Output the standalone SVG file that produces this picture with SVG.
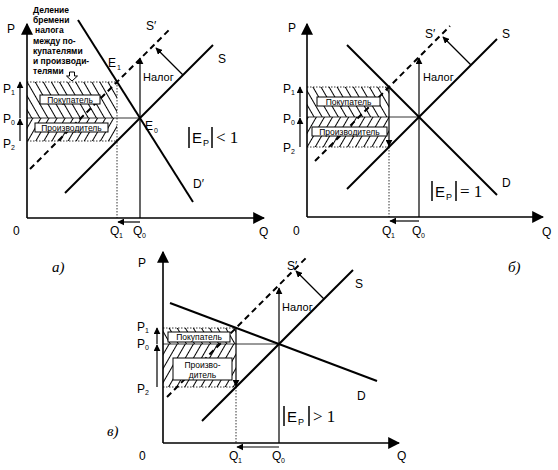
<svg xmlns="http://www.w3.org/2000/svg" width="558" height="470" viewBox="0 0 558 470">
<defs>
<style>
.ax{stroke:#000;stroke-width:1.6;fill:none}
.cv{stroke:#000;stroke-width:2;fill:none}
.dsh{stroke:#000;stroke-width:2;fill:none;stroke-dasharray:6 4}
.thin{stroke:#000;stroke-width:0.8;fill:none}
.dot{stroke:#000;stroke-width:0.8;fill:none;stroke-dasharray:1.5 1.5}
.ar{stroke:#000;stroke-width:1.2;fill:none}
.box{fill:#fff;stroke:#000;stroke-width:1}
.t{font-family:"Liberation Sans",Arial,sans-serif;font-size:12px;fill:#000}
.s{font-family:"Liberation Sans",Arial,sans-serif;font-size:7px;fill:#000}
.n{font-family:"Liberation Sans",Arial,sans-serif;font-size:11px;fill:#000}
.bx{font-family:"Liberation Sans",Arial,sans-serif;font-size:8.5px;fill:#000;text-anchor:middle}
.note{font-family:"Liberation Sans",Arial,sans-serif;font-size:8.5px;font-weight:bold;fill:#000}
.el{font-family:"Liberation Sans",Arial,sans-serif;font-size:15px;fill:#000}
.els{font-family:"Liberation Sans",Arial,sans-serif;font-size:9px;fill:#000}
.rel{font-family:"Liberation Serif","Times New Roman",serif;font-size:17px;fill:#000}
.lab{font-family:"Liberation Serif","Times New Roman",serif;font-size:15px;font-style:italic;fill:#000}
.bar{stroke:#000;stroke-width:1.5}
</style>
<marker id="axh" viewBox="0 0 10 10" refX="9" refY="5" markerWidth="12" markerHeight="12" markerUnits="userSpaceOnUse" orient="auto"><path d="M0,0 L10,5 L0,10 z" fill="#000"/></marker>
<marker id="ah" viewBox="0 0 10 10" refX="9" refY="5" markerWidth="7" markerHeight="7" markerUnits="userSpaceOnUse" orient="auto"><path d="M0,0 L10,5 L0,10 z" fill="#000"/></marker>
<pattern id="hb" width="7" height="10" patternUnits="userSpaceOnUse" patternTransform="rotate(-30)"><line x1="3.5" y1="0" x2="3.5" y2="10" stroke="#000" stroke-width="1"/></pattern>
<pattern id="hf" width="7" height="10" patternUnits="userSpaceOnUse" patternTransform="rotate(30)"><line x1="3.5" y1="0" x2="3.5" y2="10" stroke="#000" stroke-width="1"/></pattern>
</defs>
<rect width="558" height="470" fill="#fff"/>

<!-- Panel a -->
<g id="panel-a">
<g id="a-hatch">
<rect x="27" y="82" width="90" height="36" fill="url(#hb)"/>
<rect x="27" y="118" width="90" height="23" fill="url(#hf)"/>
</g>
<g id="a-connectors">
<line class="dot" x1="27" y1="82" x2="117" y2="82"/>
<line class="dot" x1="27" y1="141" x2="117" y2="141"/>
<line class="thin" x1="27" y1="118" x2="140" y2="118"/>
<line class="dot" x1="117" y1="82" x2="117" y2="218"/>
<line class="ar" x1="140" y1="218" x2="140" y2="58" marker-end="url(#ah)"/>
<line class="cv" x1="65" y1="193" x2="213" y2="45"/>
<line class="dsh" x1="30" y1="169" x2="170" y2="29"/>
<line class="cv" x1="78" y1="20" x2="193" y2="202"/>
<line class="ar" x1="183" y1="75" x2="156" y2="48" marker-end="url(#ah)"/>
<line class="ar" x1="20" y1="141" x2="20" y2="119" marker-end="url(#ah)"/>
<line class="ar" x1="20" y1="118" x2="20" y2="82" marker-end="url(#ah)"/>
<line class="ar" x1="140" y1="222" x2="118" y2="222" marker-end="url(#ah)"/>
<line class="ax" x1="27" y1="218" x2="27" y2="24" marker-end="url(#axh)"/>
<line class="ax" x1="27" y1="218" x2="264" y2="218" marker-end="url(#axh)"/>
</g>
<g id="a-buyer"><rect class="box" x="40" y="95" width="60" height="9"/><text class="bx" x="70" y="102.8">Покупатель</text></g>
<g id="a-producer"><rect class="box" x="35" y="123" width="73" height="9"/><text class="bx" x="71.5" y="130.8">Производитель</text></g>
<g id="a-note">
<text class="note" x="33" y="13">Деление</text>
<text class="note" x="33" y="23">бремени</text>
<text class="note" x="35" y="33">налога</text>
<text class="note" x="33" y="44">между по-</text>
<text class="note" x="33" y="54">купателями</text>
<text class="note" x="33" y="64">и производи-</text>
<text class="note" x="33" y="74">телями</text>
<path d="M69.5,72 h5 v4 h3 l-5.5,5 l-5.5,-5 h3 z" fill="#fff" stroke="#000" stroke-width="1"/>
</g>
<g id="a-labels">
<text class="t" x="7" y="33">P</text>
<text class="t" x="13" y="235">0</text>
<text class="t" x="259" y="236">Q</text>
<text class="t" x="110" y="235">Q</text><text class="s" x="119" y="238">1</text>
<text class="t" x="133" y="235">Q</text><text class="s" x="142" y="238">0</text>
<text class="t" x="3" y="93">P</text><text class="s" x="11" y="95">1</text>
<text class="t" x="3" y="123">P</text><text class="s" x="11" y="125">0</text>
<text class="t" x="3" y="148">P</text><text class="s" x="11" y="150">2</text>
<text class="t" x="108" y="67">E</text><text class="s" x="117" y="70">1</text>
<text class="t" x="145" y="130">E</text><text class="s" x="154" y="133">0</text>
<text class="t" x="218" y="63">S</text>
<text class="t" x="146" y="30">S′</text>
<text class="t" x="193" y="188">D′</text>
<text class="n" x="143" y="81">Налог</text>
<line class="bar" x1="189" y1="127" x2="189" y2="148"/>
<text class="el" x="192" y="143">E</text><text class="els" x="203" y="146">P</text>
<line class="bar" x1="212" y1="127" x2="212" y2="148"/>
<text class="rel" x="216" y="143">&lt; 1</text>
<text class="lab" x="52" y="272">а)</text>
</g>
</g>

<!-- Panel b -->
<g id="panel-b">
<g id="b-hatch">
<rect x="307" y="87" width="82" height="30" fill="url(#hb)"/>
<rect x="307" y="117" width="82" height="30" fill="url(#hf)"/>
</g>
<g id="b-connectors">
<line class="dot" x1="307" y1="87" x2="389" y2="87"/>
<line class="dot" x1="307" y1="147" x2="389" y2="147"/>
<line class="thin" x1="307" y1="117" x2="419" y2="117"/>
<line class="dot" x1="389" y1="147" x2="389" y2="217"/>
<line class="ar" x1="389" y1="87" x2="389" y2="146" marker-end="url(#ah)"/>
<line class="ar" x1="419" y1="217" x2="419" y2="58" marker-end="url(#ah)"/>
<line class="cv" x1="347" y1="189" x2="497" y2="39"/>
<line class="dsh" x1="315" y1="161" x2="450" y2="26"/>
<line class="cv" x1="347" y1="45" x2="497" y2="195"/>
<line class="ar" x1="471" y1="65" x2="443" y2="37" marker-end="url(#ah)"/>
<line class="ar" x1="300" y1="147" x2="300" y2="118" marker-end="url(#ah)"/>
<line class="ar" x1="300" y1="117" x2="300" y2="87" marker-end="url(#ah)"/>
<line class="ar" x1="419" y1="221" x2="390" y2="221" marker-end="url(#ah)"/>
<line class="ax" x1="307" y1="217" x2="307" y2="24" marker-end="url(#axh)"/>
<line class="ax" x1="307" y1="217" x2="543" y2="217" marker-end="url(#axh)"/>
</g>
<g id="b-buyer"><rect class="box" x="317" y="97" width="63" height="9"/><text class="bx" x="348.5" y="104.8">Покупатель</text></g>
<g id="b-producer"><rect class="box" x="312" y="127" width="75" height="9"/><text class="bx" x="349.5" y="134.8">Производитель</text></g>
<g id="b-labels">
<text class="t" x="288" y="32">P</text>
<text class="t" x="293" y="235">0</text>
<text class="t" x="542" y="236">Q</text>
<text class="t" x="382" y="235">Q</text><text class="s" x="391" y="238">1</text>
<text class="t" x="412" y="235">Q</text><text class="s" x="421" y="238">0</text>
<text class="t" x="283" y="93">P</text><text class="s" x="291" y="95">1</text>
<text class="t" x="283" y="123">P</text><text class="s" x="291" y="125">0</text>
<text class="t" x="283" y="152">P</text><text class="s" x="291" y="154">2</text>
<text class="t" x="502" y="38">S</text>
<text class="t" x="425" y="38">S′</text>
<text class="t" x="502" y="187">D</text>
<text class="n" x="423" y="81">Налог</text>
<line class="bar" x1="432" y1="181" x2="432" y2="201"/>
<text class="el" x="435" y="197">E</text><text class="els" x="446" y="200">P</text>
<line class="bar" x1="456" y1="181" x2="456" y2="201"/>
<text class="rel" x="460" y="197">= 1</text>
<text class="lab" x="508" y="272">б)</text>
</g>
</g>

<!-- Panel c -->
<g id="panel-c">
<g id="c-hatch">
<rect x="163" y="328" width="73" height="16" fill="url(#hb)"/>
<rect x="163" y="344" width="73" height="43" fill="url(#hf)"/>
</g>
<g id="c-connectors">
<line class="dot" x1="163" y1="328" x2="236" y2="328"/>
<line class="dot" x1="163" y1="387" x2="236" y2="387"/>
<line class="thin" x1="163" y1="344" x2="279" y2="344"/>
<line class="dot" x1="236" y1="387" x2="236" y2="443"/>
<line class="ar" x1="236" y1="328" x2="236" y2="386" marker-end="url(#ah)"/>
<line class="ar" x1="279" y1="443" x2="279" y2="288" marker-end="url(#ah)"/>
<line class="cv" x1="202" y1="421" x2="353" y2="270"/>
<line class="dsh" x1="167" y1="397" x2="307" y2="257"/>
<line class="cv" x1="170" y1="303" x2="377" y2="381"/>
<line class="ar" x1="324" y1="299" x2="296" y2="271" marker-end="url(#ah)"/>
<line class="ar" x1="157" y1="387" x2="157" y2="345" marker-end="url(#ah)"/>
<line class="ar" x1="157" y1="344" x2="157" y2="328" marker-end="url(#ah)"/>
<line class="ar" x1="279" y1="447" x2="237" y2="447" marker-end="url(#ah)"/>
<line class="ax" x1="163" y1="443" x2="163" y2="252" marker-end="url(#axh)"/>
<line class="ax" x1="163" y1="443" x2="399" y2="443" marker-end="url(#axh)"/>
</g>
<g id="c-buyer"><rect class="box" x="168" y="332" width="62" height="10"/><text class="bx" x="199" y="340.2">Покупатель</text></g>
<g id="c-producer"><rect class="box" x="173" y="358" width="59" height="22"/><text class="bx" x="202.5" y="367.5">Произво-</text><text class="bx" x="202.5" y="377.5">дитель</text></g>
<g id="c-labels">
<text class="t" x="138" y="267">P</text>
<text class="t" x="139" y="460">0</text>
<text class="t" x="397" y="460">Q</text>
<text class="t" x="229" y="460">Q</text><text class="s" x="238" y="463">1</text>
<text class="t" x="272" y="460">Q</text><text class="s" x="281" y="463">0</text>
<text class="t" x="137" y="331">P</text><text class="s" x="145" y="333">1</text>
<text class="t" x="137" y="348">P</text><text class="s" x="145" y="350">0</text>
<text class="t" x="137" y="393">P</text><text class="s" x="145" y="395">2</text>
<text class="t" x="355" y="288">S</text>
<text class="t" x="287" y="270">S′</text>
<text class="t" x="357" y="400">D</text>
<text class="n" x="282" y="311">Налог</text>
<line class="bar" x1="284" y1="406" x2="284" y2="426"/>
<text class="el" x="287" y="422">E</text><text class="els" x="298" y="425">P</text>
<line class="bar" x1="309" y1="406" x2="309" y2="426"/>
<text class="rel" x="313" y="422">&gt; 1</text>
<text class="lab" x="107" y="436">в)</text>
</g>
</g>
</svg>
